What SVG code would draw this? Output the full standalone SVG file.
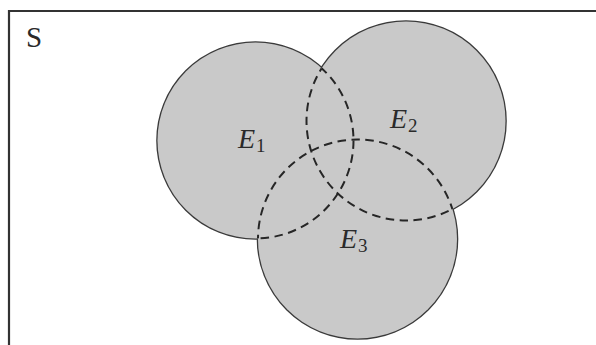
<svg xmlns="http://www.w3.org/2000/svg" width="596" height="345" viewBox="0 0 596 345">
  <style>
    .frame { fill: none; stroke: #333; stroke-width: 2.2; }
    .edge { fill: none; stroke: #3a3a3a; stroke-width: 2.6; }
    .area { fill: #c9c9c9; stroke: none; }
    .inner { fill: none; stroke: #262626; stroke-width: 2; stroke-dasharray: 8.5 5.5; }
    text { font-family: "Liberation Serif", "Times New Roman", "DejaVu Serif", serif; fill: #2a2a2a; }
    .it { font-style: italic; font-size: 28px; }
    .sub { font-size: 19px; font-style: normal; }
  </style>
  <defs>
    <circle id="c1" cx="255.5" cy="140.5" r="98"/>
    <circle id="c2" cx="406" cy="121" r="99.5"/>
    <circle id="c3" cx="357.5" cy="239" r="99.5"/>
    <clipPath id="in23"><use href="#c2"/><use href="#c3"/></clipPath>
    <clipPath id="in13"><use href="#c1"/><use href="#c3"/></clipPath>
    <clipPath id="in12"><use href="#c1"/><use href="#c2"/></clipPath>
  </defs>

  <rect width="596" height="345" fill="#fff"/>

  <!-- sample space border (top and left edges) -->
  <path class="frame" d="M9 345 V11 H596"/>
  <text x="26" y="47" font-family="Liberation Serif, serif" font-size="29">S</text>

  <!-- outline of the union: wide strokes, inner half hidden by the fills -->
  <g id="union-outline">
    <use href="#c1" class="edge"/>
    <use href="#c2" class="edge"/>
    <use href="#c3" class="edge"/>
  </g>
  <g id="union-fill">
    <use href="#c1" class="area"/>
    <use href="#c2" class="area"/>
    <use href="#c3" class="area"/>
  </g>

  <g id="E1">
    <use href="#c1" class="inner" clip-path="url(#in23)"/>
    <text font-family="Liberation Serif, serif"><tspan class="it" x="238" y="148">E</tspan><tspan class="sub" x="256" y="152">1</tspan></text>
  </g>
  <g id="E2">
    <use href="#c2" class="inner" clip-path="url(#in13)"/>
    <text font-family="Liberation Serif, serif"><tspan class="it" x="390" y="128">E</tspan><tspan class="sub" x="408" y="132">2</tspan></text>
  </g>
  <g id="E3">
    <use href="#c3" class="inner" clip-path="url(#in12)"/>
    <text font-family="Liberation Serif, serif"><tspan class="it" x="340" y="248">E</tspan><tspan class="sub" x="358" y="252">3</tspan></text>
  </g>
</svg>
